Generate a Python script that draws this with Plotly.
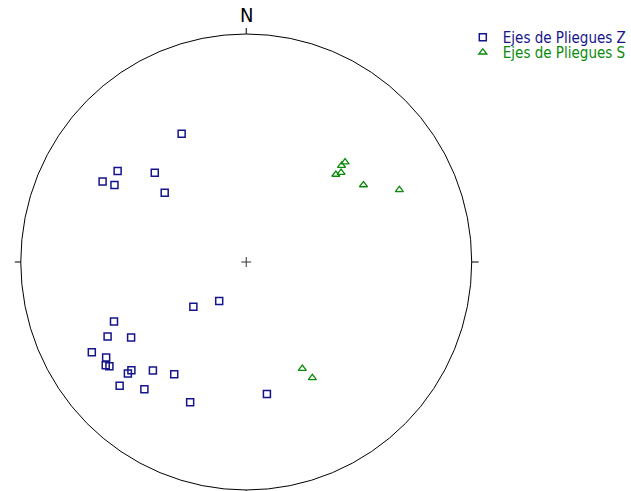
import numpy as np
import plotly.graph_objects as go

# Fold axes (lineations): trend / plunge in degrees, lower hemisphere
z_trend = [333, 305, 299, 300, 314, 310, 215, 230, 246, 242, 237, 240, 236, 234,
           233, 227, 227, 221, 213, 226, 219, 202, 171]
z_plunge = [37, 31, 28, 33, 43, 51, 73, 65, 36, 31, 39, 22, 26, 24,
            25, 31, 29, 37, 41, 23, 29, 34, 41]
s_trend = [45, 45, 46, 47, 57, 65, 152, 150]
s_plunge = [38, 40, 44, 42, 38, 26, 46, 41]

name_z = "Ejes de Pliegues Z"
name_s = "Ejes de Pliegues S"


def schmidt(trend, plunge):
    t = np.radians(np.array(trend, dtype=float))
    p = np.radians(np.array(plunge, dtype=float))
    r = np.sqrt(2) * np.sin((np.pi / 2 - p) / 2)
    return r * np.sin(t), r * np.cos(t)


zx, zy = schmidt(z_trend, z_plunge)
sx, sy = schmidt(s_trend, s_plunge)

BLUE = "#14148c"
GREEN = "#0a8a0a"
FONT = "Liberation Sans Narrow, DejaVu Sans Condensed, sans-serif"

fig = go.Figure()
fig.add_trace(go.Scatter(x=zx, y=zy, mode="markers", name=name_z,
                         marker=dict(symbol="square-open", size=7, color=BLUE,
                                     line=dict(width=1.5, color=BLUE)),
                         legend="legend"))
fig.add_trace(go.Scatter(x=sx, y=sy, mode="markers", name=name_s,
                         marker=dict(symbol="triangle-up-open", size=7, color=GREEN,
                                     line=dict(width=1.3, color=GREEN)),
                         legend="legend2"))

u = 1 / 228.0
shapes = [
    dict(type="circle", xref="x", yref="y", x0=-1, y0=-1, x1=1, y1=1,
         line=dict(color="black", width=1)),
    dict(type="line", xref="x", yref="y", x0=0, y0=1, x1=0, y1=1 + 6 * u,
         line=dict(color="black", width=1)),
    dict(type="line", xref="x", yref="y", x0=1, y0=0, x1=1 + 7 * u, y1=0,
         line=dict(color="black", width=1)),
    dict(type="line", xref="x", yref="y", x0=-1, y0=0, x1=-1 - 6 * u, y1=0,
         line=dict(color="black", width=1)),
    dict(type="line", xref="x", yref="y", x0=0, y0=-1, x1=0, y1=-1 - 6 * u,
         line=dict(color="black", width=1)),
    dict(type="line", xref="x", yref="y", x0=-5 * u, y0=0, x1=5 * u, y1=0,
         line=dict(color="#333", width=1)),
    dict(type="line", xref="x", yref="y", x0=0, y0=-5 * u, x1=0, y1=5 * u,
         line=dict(color="#333", width=1)),
]

x0 = -1 - 21 * u
y1 = 1 + 34 * u
fig.update_layout(
    width=631, height=491,
    margin=dict(l=0, r=0, t=0, b=0),
    paper_bgcolor="white", plot_bgcolor="white",
    xaxis=dict(range=[x0, x0 + 631 * u], visible=False, fixedrange=True),
    yaxis=dict(range=[y1 - 491 * u, y1], visible=False, fixedrange=True),
    shapes=shapes,
    annotations=[dict(x=0, y=1 + 19 * u, xref="x", yref="y", text="N",
                      showarrow=False, yanchor="middle",
                      font=dict(family=FONT, size=20, color="black"))],
    legend=dict(x=468 / 631, y=1 - 21 / 491, xanchor="left", yanchor="top",
                bgcolor="rgba(0,0,0,0)", itemwidth=30, tracegroupgap=0,
                font=dict(family=FONT, size=15, color=BLUE)),
    legend2=dict(x=468 / 631, y=1 - 36 / 491, xanchor="left", yanchor="top",
                 bgcolor="rgba(0,0,0,0)", itemwidth=30, tracegroupgap=0,
                 font=dict(family=FONT, size=15, color=GREEN)),
    showlegend=True,
)

fig.write_html(
    "out.html",
    config={"displayModeBar": False},
    post_script="document.body.style.margin='0';document.body.style.overflow='hidden';",
)
